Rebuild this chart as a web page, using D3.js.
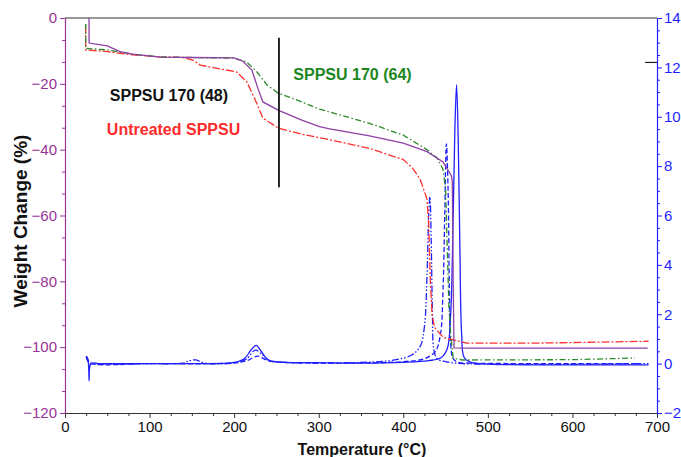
<!DOCTYPE html>
<html>

<head>
    <style>
        body { margin: 0; background: #fff; }
        text { font-family: Arial, "Liberation Sans", sans-serif; }
        .curve { fill: none; stroke-width: 1.3; }
    </style>
</head>

<body>
    <svg id="container" height="457" width="681">
        <g id="body"></g>
    </svg>
</body>
<script src="https://d3js.org/d3.v7.min.js"></script>

<script>
    // weight loss curves, [temperature °C, weight change %]
    let untreatedWeight = [[24.4, -2.1], [24.5, -9.7], [50, -10.2], [80, -11.2], [112, -11.8], [140, -12], [151, -12.8],
        [160, -14.3], [180, -15.3], [203, -16.4], [215, -19.4], [225, -24.9], [234, -30.4], [252, -33.4], [280, -35.3],
        [313, -37], [360, -39.6], [400, -43], [411, -45.6], [420, -49], [428, -55], [430, -62], [432, -80], [434, -90],
        [437, -94], [447, -97], [475, -98.8], [550, -98.8], [690, -98.2]];
    let sppsu64Weight = [[24.4, -1.8], [24.5, -9.2], [50, -9.7], [80, -11], [112, -11.8], [150, -12], [200, -12.2],
        [215, -13.4], [227, -16.4], [239, -20.4], [252, -22.8], [274, -24.9], [301, -27.7], [330, -29.8], [360, -32],
        [400, -35.6], [428, -40], [440, -42.5], [447, -46], [450, -52], [452, -70], [454, -88], [456, -96], [459, -103.3],
        [470, -103.9], [600, -103.8], [674, -103.3]];
    let sppsu48Weight = [[28.4, 0], [28.5, -7.6], [50, -8.5], [65, -10.2], [80, -11], [112, -11.9], [150, -12],
        [200, -12.1], [210, -13.1], [221, -15.8], [228, -21.3], [234, -25.5], [252, -28], [280, -31], [301, -33],
        [313, -33.7], [360, -35.8], [400, -38], [428, -40.6], [447, -43.7], [457, -48], [458, -50], [459, -80],
        [460, -100.2], [480, -100.3], [689, -100.3]];

    // derivative curves, [temperature °C, deriv. weight]
    let untreatedDeriv = [[25, 0.3], [28, 0.05], [31, 0], [100, 0], [140, 0.02], [147, 0.12], [155, 0.15], [162, 0.05],
        [170, 0], [205, 0.05], [215, 0.2], [225, 0.55], [232, 0.4], [242, 0.12], [260, 0.05], [350, 0.05], [390, 0.15],
        [410, 0.35], [420, 0.7], [425, 1.5], [428, 3.5], [430, 6], [431.5, 6.76], [433, 5], [434.5, 2], [436, 0.6],
        [440, 0.2], [450, 0.08], [470, 0], [690, 0]];
    let sppsu64Deriv = [[25, 0.25], [28, 0.1], [31, 0], [100, 0], [200, 0.03], [215, 0.12], [228, 0.3], [240, 0.12],
        [260, 0.05], [350, 0.03], [400, 0.08], [425, 0.2], [438, 0.5], [444, 1.2], [447, 3], [449, 6], [451, 8.9],
        [453, 7], [454.5, 3], [456, 0.8], [459, 0.2], [465, 0.05], [480, 0.02], [600, 0], [675, 0]];
    let sppsu48Deriv = [[25, 0.3], [27, 0.2], [28.5, -0.7], [29, -0.2], [31, 0.02], [40, 0], [100, 0], [150, 0],
        [200, 0.05], [212, 0.2], [220, 0.55], [226, 0.74], [232, 0.5], [240, 0.15], [255, 0.06], [300, 0.04],
        [350, 0.02], [400, 0.05], [430, 0.12], [445, 0.25], [452, 0.6], [456, 2], [459, 6], [461, 9.5], [463, 11.3],
        [465, 9], [467, 4.5], [469, 1.2], [472, 0.25], [480, 0.05], [500, -0.02], [600, -0.05], [690, -0.05]];

    let xTicks = [0, 100, 200, 300, 400, 500, 600, 700];
    let yTicks = [0, -20, -40, -60, -80, -100, -120];
    let y2Ticks = [-2, 0, 2, 4, 6, 8, 10, 12, 14];

    // vertical marker [temp, from weight, to weight] and curve labels
    let marker = [253, -6, -51.4];
    let labels = [
        { text: "SPPSU 170 (64)", color: "#1e861e", t: 270, w: -18.8 },
        { text: "SPPSU 170 (48)", color: "#111", t: 53, w: -25.2 },
        { text: "Untreated SPPSU", color: "#ff2a2a", t: 49.5, w: -35.5 }
    ];

    let body = d3.select("#body");
    let plotLeft = 65, plotRight = 657, plotTop = 18, plotBottom = 413;
    let purple = "#993399", blue = "#1f1fff";
    let font = "Arial, 'Liberation Sans', sans-serif";

    let x = d3.scaleLinear().domain([0, 700]).range([plotLeft, plotRight]);
    let y = d3.scaleLinear().domain([-120, 0]).range([plotBottom, plotTop]);
    let y2 = d3.scaleLinear().domain([-2, 14]).range([plotBottom, plotTop]);

    // top frame
    body.append("line")
        .attr("x1", plotLeft).attr("x2", plotRight)
        .attr("y1", plotTop).attr("y2", plotTop)
        .attr("stroke", "#333").attr("stroke-width", 1.2);

    // bottom axis
    let xMinor = d3.range(0, 701, 25).filter((d) => d % 100 != 0);
    body.append("g")
        .attr("transform", `translate(0, ${plotBottom})`)
        .call(d3.axisBottom(x).tickValues(xMinor).tickSize(3).tickFormat(""))
        .call((g) => g.select(".domain").remove())
        .selectAll("line").attr("stroke", "#333");
    let xAxis = body.append("g")
        .attr("transform", `translate(0, ${plotBottom})`)
        .call(d3.axisBottom(x).tickValues(xTicks).tickSize(5).tickSizeOuter(0).tickPadding(3));
    xAxis.select(".domain").attr("stroke", "#333").attr("stroke-width", 1.2);
    xAxis.selectAll("line").attr("stroke", "#333");
    xAxis.selectAll("text").attr("font-size", 15).attr("fill", "#111").attr("font-family", font);

    // left axis
    let yMinor = d3.range(0, 19).map((i) => -i * 20 / 3).filter((d, i) => i % 3 != 0);
    body.append("g")
        .attr("transform", `translate(${plotLeft}, 0)`)
        .call(d3.axisLeft(y).tickValues(yMinor).tickSize(3).tickFormat(""))
        .call((g) => g.select(".domain").remove())
        .selectAll("line").attr("stroke", purple);
    let yAxis = body.append("g")
        .attr("transform", `translate(${plotLeft}, 0)`)
        .call(d3.axisLeft(y).tickValues(yTicks).tickSize(5).tickSizeOuter(0).tickPadding(3));
    yAxis.select(".domain").attr("stroke", purple).attr("stroke-width", 1.2);
    yAxis.selectAll("line").attr("stroke", purple);
    yAxis.selectAll("text").attr("font-size", 15).attr("fill", purple).attr("font-family", font);

    // right axis
    let y2Minor = d3.range(-2, 14.01, 0.5).filter((d) => d % 2 != 0);
    body.append("g")
        .attr("transform", `translate(${plotRight}, 0)`)
        .call(d3.axisRight(y2).tickValues(y2Minor).tickSize(3).tickFormat(""))
        .call((g) => g.select(".domain").remove())
        .selectAll("line").attr("stroke", blue);
    let y2Axis = body.append("g")
        .attr("transform", `translate(${plotRight}, 0)`)
        .call(d3.axisRight(y2).tickValues(y2Ticks).tickSize(5).tickSizeOuter(0).tickPadding(2));
    y2Axis.select(".domain").attr("stroke", blue).attr("stroke-width", 1.2);
    y2Axis.selectAll("line").attr("stroke", blue);
    y2Axis.selectAll("text").attr("font-size", 15).attr("fill", blue).attr("font-family", font);

    // small black tick near the top of the right axis
    body.append("line")
        .attr("x1", plotRight - 12).attr("x2", plotRight)
        .attr("y1", y2(12.2)).attr("y2", y2(12.2))
        .attr("stroke", "#222").attr("stroke-width", 1.2);

    // axis titles
    body.append("text")
        .text("Temperature (°C)")
        .attr("x", (plotLeft + plotRight) / 2 + 1).attr("y", 455)
        .attr("text-anchor", "middle")
        .attr("font-size", 16).attr("font-weight", "bold").attr("fill", "#111");
    body.append("text")
        .text("Weight Change (%)")
        .attr("transform", "translate(27, 221) rotate(-90)")
        .attr("text-anchor", "middle")
        .attr("font-size", 19).attr("font-weight", "bold").attr("fill", "#111");

    // curves
    let wLine = d3.line().x((d) => x(d[0])).y((d) => y(d[1]));
    let dLine = d3.line().x((d) => x(d[0])).y((d) => y2(d[1])).curve(d3.curveCatmullRom.alpha(0.5));

    let curves = [
        { data: untreatedDeriv, gen: dLine, color: blue, dash: "7,2,1.5,2,1.5,2" },
        { data: sppsu64Deriv, gen: dLine, color: blue, dash: "5,2.5" },
        { data: sppsu48Deriv, gen: dLine, color: blue, dash: null },
        { data: untreatedWeight, gen: wLine, color: "#ff3030", dash: "8,2,2,2" },
        { data: sppsu64Weight, gen: wLine, color: "#2a8a2a", dash: "6,2.5,1.5,2.5" },
        { data: sppsu48Weight, gen: wLine, color: "#8e3fa6", dash: null }
    ];
    body.append("g")
        .selectAll("path")
        .data(curves)
        .enter()
        .append("path")
            .attr("class", "curve")
            .attr("d", (d) => d.gen(d.data))
            .attr("stroke", (d) => d.color)
            .attr("stroke-dasharray", (d) => d.dash);

    // vertical marker line
    body.append("line")
        .attr("x1", x(marker[0])).attr("x2", x(marker[0]))
        .attr("y1", y(marker[1])).attr("y2", y(marker[2]))
        .attr("stroke", "#111").attr("stroke-width", 1.8);

    // curve labels
    body.append("g")
        .selectAll("text")
        .data(labels)
        .enter()
        .append("text")
            .text((d) => d.text)
            .attr("x", (d) => x(d.t))
            .attr("y", (d) => y(d.w))
            .attr("font-size", 16)
            .attr("font-weight", "bold")
            .attr("fill", (d) => d.color);
</script>

</html>
